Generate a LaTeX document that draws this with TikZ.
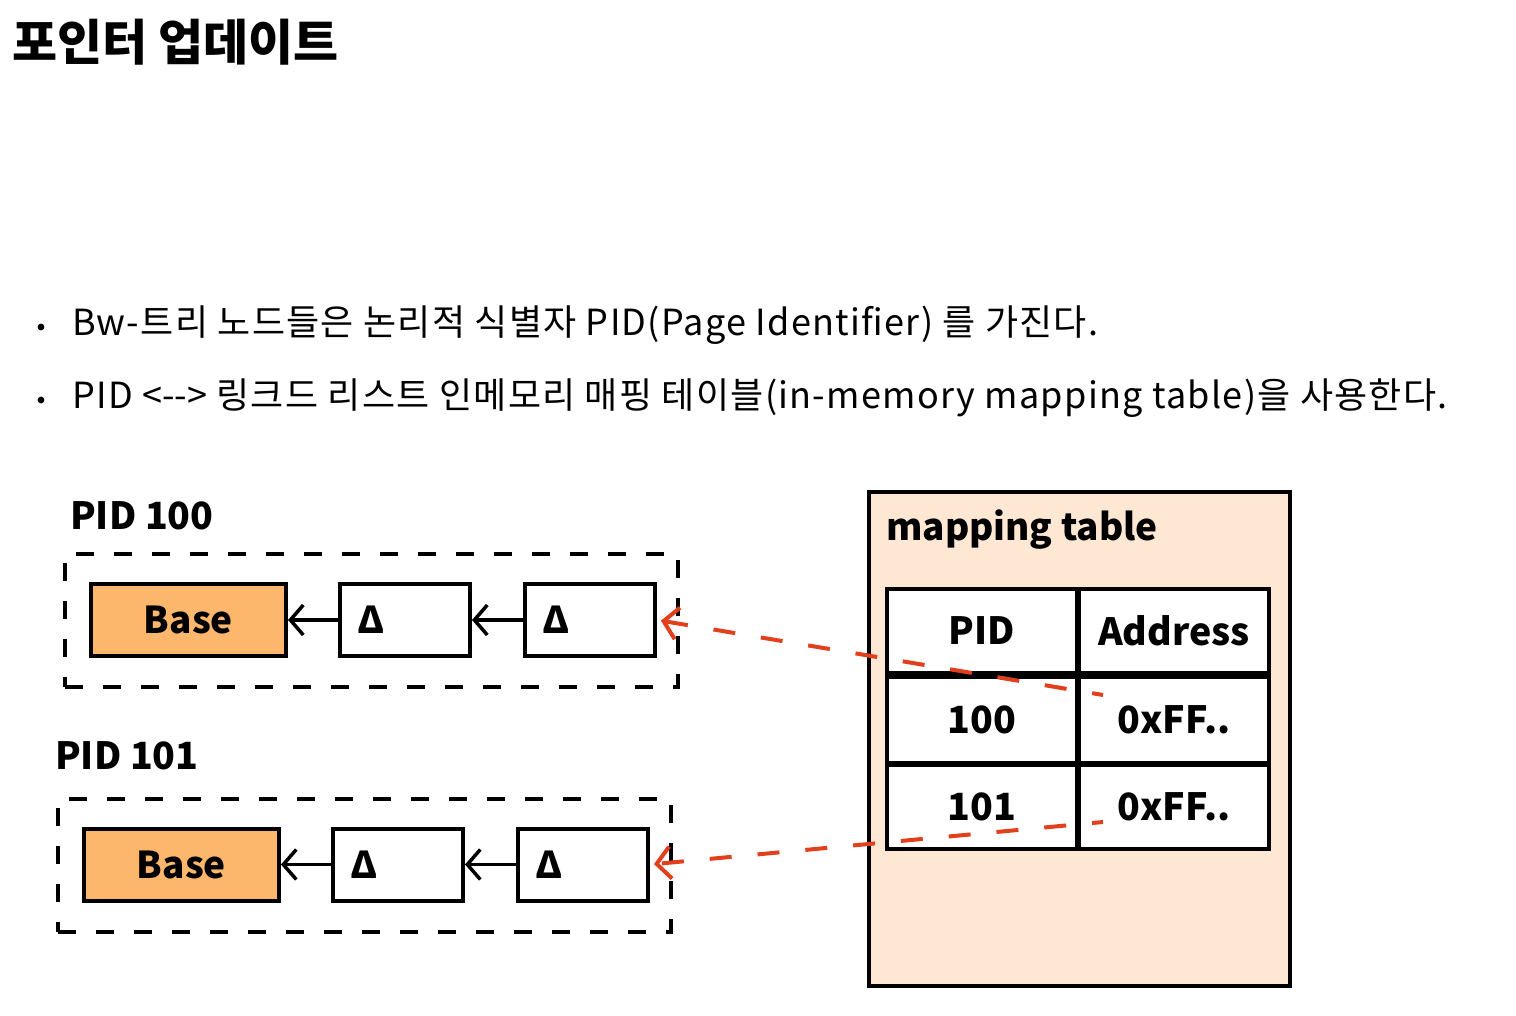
\documentclass[tikz,border=0pt]{standalone}
\usepackage{fontspec}
\setmainfont{Noto Sans CJK KR}
\newfontfamily\bodyfont{Noto Sans CJK KR}[LetterSpace=3.6]
\usetikzlibrary{arrows.meta}
\definecolor{redln}{HTML}{E2401C}
\definecolor{peach}{HTML}{FFE8D3}
\definecolor{basefill}{HTML}{FDB76D}
\tikzset{
  box/.style={draw=black, line width=4pt, rectangle, inner sep=0pt, minimum height=72pt},
  basebox/.style={box, fill=basefill, minimum width=195pt, font=\bfseries\fontsize{37}{40}\selectfont},
  deltabox/.style={box, fill=white, text width=96pt, inner xsep=17pt, align=left, font=\bfseries\fontsize{37}{40}\selectfont},
  group/.style={draw=black, line width=4pt, dash pattern=on 18pt off 20pt, rectangle, inner sep=0pt},
  cell/.style={draw=black, line width=4pt, fill=white, rectangle, inner sep=0pt, minimum width=190pt, font=\bfseries\fontsize{37.5}{40}\selectfont},
  lbl/.style={anchor=west, inner sep=0pt, font=\bfseries\fontsize{37.5}{40}\selectfont},
  bullettext/.style={anchor=west, inner sep=0pt, font=\bodyfont\fontsize{36}{40}\selectfont},
  link/.style={line width=3.5pt, -{Straight Barb[length=13pt,width=30pt,line width=3.5pt]}},
  ptr/.style={draw=redln, line width=4pt, dash pattern=on 22pt off 26pt, dash phase=11pt, -{Straight Barb[length=14pt,width=32pt,line width=4pt]}},
}
\begin{document}
\begin{tikzpicture}[x=1pt,y=-1pt]
\useasboundingbox (0,0) rectangle (1516,1016);
% title
\node[anchor=west, inner sep=0pt, font=\bfseries\fontsize{49}{52}\selectfont] (title) at (12,42) {포인터 업데이트};
% bullets
\fill (41,327) circle (3.4pt);
\fill (41,400) circle (3.4pt);
\node[bullettext] (b1) at (72,325) {Bw-트리 노드들은 논리적 식별자 PID(Page Identifier) 를 가진다.};
\node[bullettext] (b2) at (72,398) {PID <\mbox{-}\mbox{-}> 링크드 리스트 인메모리 매핑 테이블(in-memory mapping table)을 사용한다.};
% PID 100
\node[lbl] (l100) at (70,516) {PID 100};
\node[group, minimum width=613pt, minimum height=133pt] (g100) at (371.5,620.5) {};
\node[basebox] (base1) at (188.5,620) {Base};
\node[deltabox] (d11) at (405,620) {Δ};
\node[deltabox] (d12) at (590,620) {Δ};
\draw[link] (d11.west) -- (base1.east);
\draw[link] (d12.west) -- (d11.east);
% PID 101
\node[lbl] (l101) at (55,756) {PID 101};
\node[group, minimum width=613pt, minimum height=133pt] (g101) at (364.5,865.5) {};
\node[basebox] (base2) at (181.5,864.5) {Base};
\node[deltabox] (d21) at (398,864.5) {Δ};
\node[deltabox] (d22) at (583,864.5) {Δ};
\draw[link] (d21.west) -- (base2.east);
\draw[link] (d22.west) -- (d21.east);
% mapping table
\node[draw=black, line width=4pt, fill=peach, rectangle, inner sep=0pt, minimum width=421pt, minimum height=494pt] (mt) at (1079,738.5) {};
\node[lbl, font=\bfseries\fontsize{37}{40}\selectfont] (mtl) at (886,530) {mapping table};
\node[cell, minimum height=84pt] (h1) at (982,631) {PID};
\node[cell, minimum height=84pt] (h2) at (1174,631) {Address};
\node[cell, minimum height=86pt] (r11) at (982,720) {100};
\node[cell, minimum height=86pt] (r12) at (1174,720) {0xFF..};
\node[cell, minimum height=84pt] (r21) at (982,807) {101};
\node[cell, minimum height=84pt] (r22) at (1174,807) {0xFF..};
% pointers
\coordinate (p1) at (1103,695);
\coordinate (p2) at (1103,822);
\draw[ptr, shorten >=4pt] (p1) -- (d12.east);
\draw[ptr, shorten >=4pt] (p2) -- (d22.east);
\end{tikzpicture}
\end{document}
